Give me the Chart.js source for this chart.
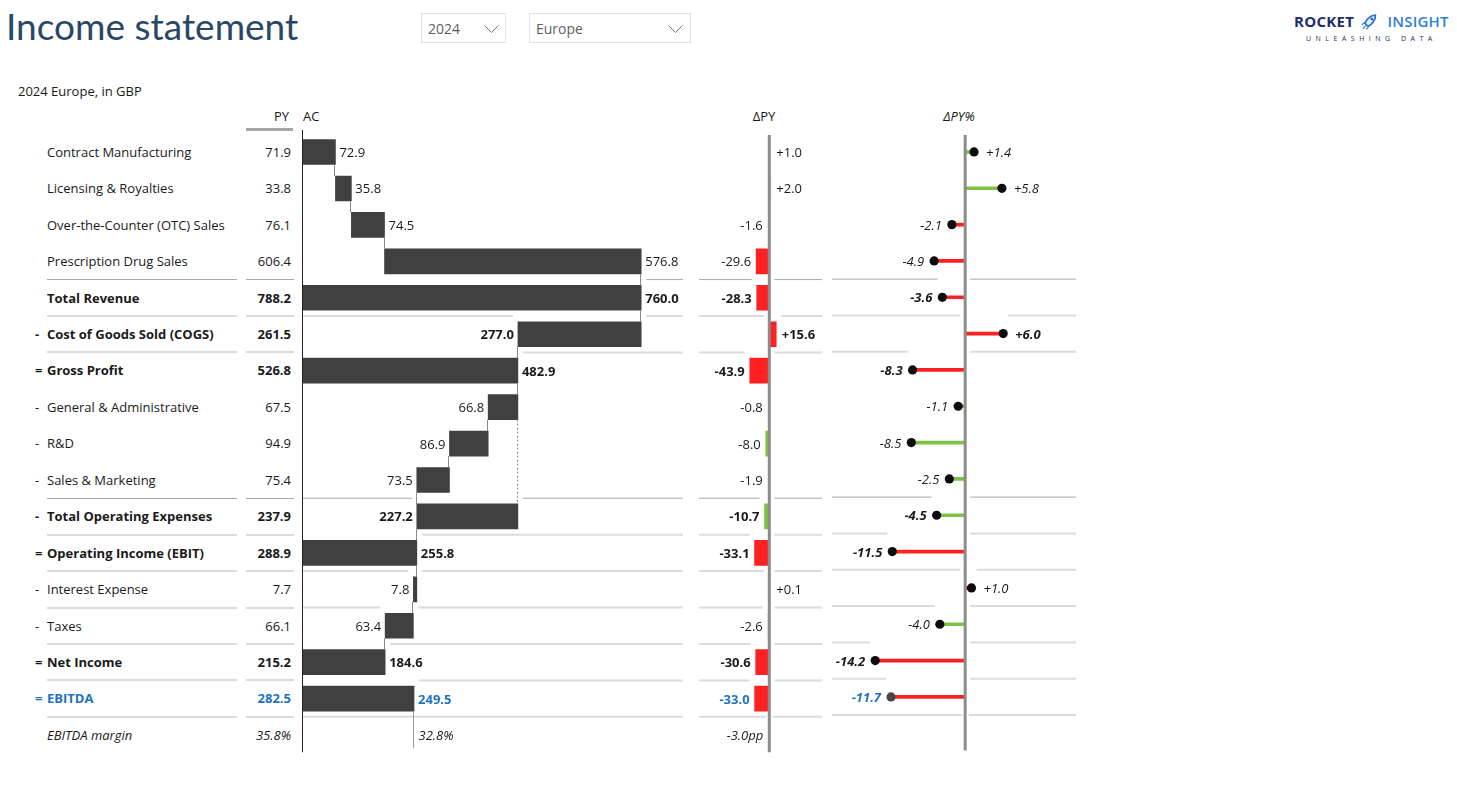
<!DOCTYPE html>
<html>
<head>
<meta charset="utf-8">
<title>Income statement</title>
<script src="https://cdn.jsdelivr.net/npm/chart.js@4.4.1/dist/chart.umd.min.js"></script>
<style>
  body { margin: 0; background: #fff; width: 1457px; height: 810px; overflow: hidden; position: relative;
         font-family: "Segoe UI", "Open Sans", sans-serif; color: #1a1a1a; }
  .abs { position: absolute; white-space: nowrap; }
  #title { left: 6px; top: 7px; font-family: Lato, "Open Sans", sans-serif; font-size: 37px; line-height: 38px; color: #2b4766; }
  .dd { position: absolute; top: 13px; height: 30px; border: 1px solid #e3e3e3; box-sizing: border-box;
        font-size: 14px; line-height: 30px; color: #605e5c; padding-left: 6px; }
  .dd svg { position: absolute; top: 11px; }
  #sub { left: 18px; top: 82px; font-size: 13px; }
  .hdr { position: absolute; top: 106px; font-size: 13px; line-height: 20px; }
  .row { position: absolute; white-space: nowrap; }
  .sep { position: absolute; }
  canvas { position: absolute; }
</style>
</head>
<body>
<div id="title" class="abs">Income statement</div>

<div class="dd" style="left:421px; width:85px;">2024
  <svg width="15" height="9" style="left:62px"><polyline points="0.5,0.5 7.5,7.5 14.5,0.5" fill="none" stroke="#777" stroke-width="1"/></svg>
</div>
<div class="dd" style="left:529px; width:162px;">Europe
  <svg width="15" height="9" style="left:138px"><polyline points="0.5,0.5 7.5,7.5 14.5,0.5" fill="none" stroke="#777" stroke-width="1"/></svg>
</div>

<div class="abs" style="left:1294px; top:10px;">
  <span style="font: 700 15px 'Open Sans'; color:#1f2d6e; letter-spacing:0.3px;">ROCKET</span>
  <svg width="18" height="18" viewBox="0 0 16 16" style="vertical-align:-3px; margin:0 4px 0 3px;">
    <g transform="rotate(42 8 8)">
      <path d="M8 0.8 C11.2 3.8 11.2 9.6 10 12.6 L6 12.6 C4.8 9.6 4.8 3.8 8 0.8Z" fill="#e8f1fc" stroke="#2a6fd0" stroke-width="1.5"/>
      <circle cx="8" cy="5.6" r="1.3" fill="#2a6fd0"/>
    </g>
    <path d="M1.5 15 L5 11.5 M0.8 11.6 L3.2 9.2 M4.6 15.4 L7 13" stroke="#3d8be0" stroke-width="1.2"/>
  </svg>
  <span style="font: 600 15px 'Open Sans'; color:#2d7fd8; letter-spacing:0.2px;">INSIGHT</span>
  <div style="font: 400 7px 'Open Sans'; letter-spacing:4.5px; color:#1f2d6e; margin:2px 0 0 12px;">UNLEASHING DATA</div>
</div>

<div id="sub" class="abs">2024 Europe, in GBP</div>
<div class="hdr" style="left:240px; width:49px; text-align:right;">PY</div>
<div class="abs" style="left:246px; top:128px; width:47px; height:3px; background:#a6a6a6;"></div>
<div class="hdr" style="left:303px;">AC</div>
<div class="hdr" style="left:734px; width:60px; text-align:center;">ΔPY</div>
<div class="hdr" style="left:929px; width:60px; text-align:center; font-style:italic;">ΔPY%</div>

<div id="rows"></div>

<canvas id="acChart"></canvas>
<canvas id="dpyChart"></canvas>
<canvas id="dpctChart"></canvas>

<script>
// ---- data ----
const rowNames = ['Contract Manufacturing', 'Licensing & Royalties', 'Over-the-Counter (OTC) Sales', 'Prescription Drug Sales',
  'Total Revenue', 'Cost of Goods Sold (COGS)', 'Gross Profit', 'General & Administrative', 'R&D', 'Sales & Marketing',
  'Total Operating Expenses', 'Operating Income (EBIT)', 'Interest Expense', 'Taxes', 'Net Income', 'EBITDA', 'EBITDA margin'];
const rowSigns = ['', '', '', '', '', '-', '=', '-', '-', '-', '-', '=', '-', '-', '=', '=', ''];
// add = adds to running total, total = result, sub = cost, subtotal = sum of costs, ratio = no bar
const rowKinds = ['add', 'add', 'add', 'add', 'total', 'sub', 'total', 'sub', 'sub', 'sub', 'subtotal', 'total', 'sub', 'sub', 'total', 'total', 'ratio'];
const pyValues = [71.9, 33.8, 76.1, 606.4, 788.2, 261.5, 526.8, 67.5, 94.9, 75.4, 237.9, 288.9, 7.7, 66.1, 215.2, 282.5, 35.8];
const acValues = [72.9, 35.8, 74.5, 576.8, 760.0, 277.0, 482.9, 66.8, 86.9, 73.5, 227.2, 255.8, 7.8, 63.4, 184.6, 249.5, 32.8];
const deltaPY = [1.0, 2.0, -1.6, -29.6, -28.3, 15.6, -43.9, -0.8, -8.0, -1.9, -10.7, -33.1, 0.1, -2.6, -30.6, -33.0, -3.0];
const deltaPct = [1.4, 5.8, -2.1, -4.9, -3.6, 6.0, -8.3, -1.1, -8.5, -2.5, -4.5, -11.5, 1.0, -4.0, -14.2, -11.7, null];
const sepAfter = [3, 4, 5, 9, 10, 11, 12, 13, 14, 15];
const sumLines = [3, 9];
const dottedLinks = [[7, 10]];

// ---- look ----
const rowStyle = ['n', 'n', 'n', 'n', 'b', 'b', 'b', 'n', 'n', 'n', 'b', 'b', 'n', 'n', 'b', 'blue', 'i'];
const FONT = "'Segoe UI', 'Open Sans', sans-serif";
const BLUE = '#1e73be', RED = '#ff2121', GREEN = '#7dc242', BAR = '#404040';
const TOP = 133.8, BAND = 36.44;
const K_AC = 0.445, K_PCT = 6.56;

const fontFor = (i, forceItalic) => {
  const s = rowStyle[i];
  return (s === 'i' || forceItalic ? 'italic ' : '') + (s === 'b' || s === 'blue' ? '700 ' : '400 ') + '13px ' + FONT;
};
const colorFor = i => rowStyle[i] === 'blue' ? BLUE : '#1a1a1a';
const isCost = i => rowKinds[i] === 'sub' || rowKinds[i] === 'subtotal';
const goodColor = (i, v) => ((v > 0) !== isCost(i)) ? GREEN : RED;
const fmtSigned = v => (v > 0 ? '+' : '') + v.toFixed(1);

// ---- html rows: labels, PY column, separators ----
const rowsDiv = document.getElementById('rows');
function addDiv(css, txt) {
  const d = document.createElement('div');
  d.className = 'row';
  Object.assign(d.style, css);
  if (txt !== undefined) d.textContent = txt;
  rowsDiv.appendChild(d);
  return d;
}
rowNames.forEach((name, i) => {
  const base = { top: (TOP + i * BAND) + 'px', height: BAND + 'px', lineHeight: BAND + 'px', font: fontFor(i), color: colorFor(i) };
  base.lineHeight = BAND + 'px';
  if (rowSigns[i]) addDiv(Object.assign({ left: '35px' }, base), rowSigns[i]).style.lineHeight = BAND + 'px';
  addDiv(Object.assign({ left: '47px' }, base), name).style.lineHeight = BAND + 'px';
  const py = rowKinds[i] === 'ratio' ? pyValues[i].toFixed(1) + '%' : pyValues[i].toFixed(1);
  addDiv(Object.assign({ left: '200px', width: '91px', textAlign: 'right' }, base), py).style.lineHeight = BAND + 'px';
});
sepAfter.forEach(i => {
  const y = TOP + (i + 1) * BAND;
  const sum = sumLines.includes(i);
  const h = sum ? 1 : 2, c = sum ? '#a8a8a8' : '#dcdcdc';
  [[47, 237], [246, 294]].forEach(([a, b]) => {
    addDiv({ left: a + 'px', width: (b - a) + 'px', top: (y - h / 2) + 'px', height: h + 'px', background: c });
  });
});

// ---- waterfall bars from AC values ----
let run = 0, anchor = 0;
const wfBars = rowKinds.map((k, i) => {
  const v = acValues[i];
  if (k === 'add') { const b = [run, run + v]; run += v; return b; }
  if (k === 'total') { run = v; anchor = v; return [0, v]; }
  if (k === 'sub') { const b = [run - v, run]; run -= v; return b; }
  if (k === 'subtotal') { run = anchor - v; return [anchor - v, anchor]; }
  return null;
});

// ---- helpers ----
function placeCanvas(id, left, right) {
  const c = document.getElementById(id);
  c.width = right - left; c.height = 628;
  c.style.left = left + 'px'; c.style.top = '128px';
  c.style.width = (right - left) + 'px'; c.style.height = '628px';
  return c;
}
function minusGaps(a, b, gaps) {
  gaps.sort((p, q) => p[0] - q[0]);
  const segs = []; let cur = a;
  for (const [g0, g1] of gaps) {
    if (g1 <= cur) continue;
    if (g0 > cur) segs.push([cur, Math.min(g0, b)]);
    cur = Math.max(cur, g1);
    if (cur >= b) break;
  }
  if (cur < b) segs.push([cur, b]);
  return segs;
}
function drawSeps(chart, left, lineL, lineR, extentOf, axisGap) {
  const ctx = chart.ctx, ys = chart.scales.y;
  ctx.save();
  sepAfter.forEach(i => {
    const y = (ys.getPixelForValue(i) + ys.getPixelForValue(i + 1)) / 2;
    const sum = sumLines.includes(i);
    const gaps = [];
    const ext = extentOf(i + 1);
    if (ext) gaps.push([ext[0] - 5, ext[1] + 5]);
    if (axisGap) gaps.push(axisGap.map(v => v - left));
    ctx.strokeStyle = sum ? '#a8a8a8' : '#dcdcdc';
    ctx.lineWidth = sum ? 1 : 2;
    minusGaps(lineL - left, lineR - left, gaps).forEach(([a, b]) => {
      ctx.beginPath(); ctx.moveTo(a, y); ctx.lineTo(b, y); ctx.stroke();
    });
  });
  ctx.restore();
}
function text(ctx, str, x, y, align, i, italic) {
  ctx.font = fontFor(i, italic);
  ctx.fillStyle = colorFor(i);
  ctx.textAlign = align;
  ctx.textBaseline = 'alphabetic';
  ctx.fillText(str, x, y + 5);
}
const baseOptions = (min, max) => ({
  indexAxis: 'y', responsive: false, animation: false, events: [],
  layout: { padding: { top: 5.8, bottom: 2.7, left: 0, right: 0 } },
  plugins: { legend: { display: false }, tooltip: { enabled: false } },
  scales: { x: { display: false, min, max }, y: { display: false } }
});

// ---- AC waterfall ----
const AC_L = 290, AC_R = 690, AC_ZERO = 303;
placeCanvas('acChart', AC_L, AC_R);
new Chart(document.getElementById('acChart'), {
  type: 'bar',
  data: { labels: rowNames, datasets: [{ data: wfBars, backgroundColor: BAR, barThickness: 25, borderSkipped: false }] },
  options: baseOptions((AC_L - AC_ZERO) / K_AC, (AC_R - AC_ZERO) / K_AC),
  plugins: [{
    id: 'waterfall',
    beforeDatasetsDraw(chart) {
      const xs = chart.scales.x;
      drawSeps(chart, AC_L, AC_ZERO, 683, i => wfBars[i] ? [xs.getPixelForValue(Math.min(...wfBars[i])), xs.getPixelForValue(Math.max(...wfBars[i]))] : null, null);
    },
    afterDatasetsDraw(chart) {
      const ctx = chart.ctx, xs = chart.scales.x, ys = chart.scales.y;
      const half = 12.5;
      ctx.save();
      // axis
      const x0 = Math.round(xs.getPixelForValue(0)) - 0.5;
      ctx.strokeStyle = '#222'; ctx.lineWidth = 1;
      ctx.beginPath(); ctx.moveTo(x0, 2); ctx.lineTo(x0, chart.chartArea.bottom - 1); ctx.stroke();
      // connectors between bars sharing an end value
      ctx.strokeStyle = '#8a8a8a';
      const shared = (a, b) => a.find(v => v !== 0 && b.some(w => Math.abs(w - v) < 0.15));
      for (let i = 0; i < wfBars.length - 1; i++) {
        const a = wfBars[i], b = wfBars[i + 1];
        if (!a || !b) continue;
        const v = shared(a, b);
        if (v === undefined) continue;
        const x = Math.round(xs.getPixelForValue(v)) - 0.5;
        ctx.beginPath(); ctx.moveTo(x, ys.getPixelForValue(i) + half); ctx.lineTo(x, ys.getPixelForValue(i + 1) - half); ctx.stroke();
      }
      ctx.setLineDash([2, 2]);
      dottedLinks.forEach(([i, j]) => {
        const v = shared(wfBars[i], wfBars[j]);
        const x = Math.round(xs.getPixelForValue(v)) - 0.5;
        ctx.beginPath(); ctx.moveTo(x, ys.getPixelForValue(i) + half); ctx.lineTo(x, ys.getPixelForValue(j) - half); ctx.stroke();
      });
      ctx.setLineDash([]);
      // EBITDA drop line into margin row
      const last = rowKinds.indexOf('ratio');
      const xe = Math.round(xs.getPixelForValue(wfBars[last - 1][1])) - 0.5;
      ctx.strokeStyle = '#9a9a9a';
      ctx.beginPath(); ctx.moveTo(xe, ys.getPixelForValue(last - 1) + half); ctx.lineTo(xe, ys.getPixelForValue(last) + 13); ctx.stroke();
      // labels
      rowNames.forEach((n, i) => {
        const y = ys.getPixelForValue(i);
        if (!wfBars[i]) {
          text(ctx, acValues[i].toFixed(1) + '%', xe + 5, y, 'left', i);
          return;
        }
        const lo = xs.getPixelForValue(Math.min(...wfBars[i])), hi = xs.getPixelForValue(Math.max(...wfBars[i]));
        const k = rowKinds[i];
        if (k === 'add' || k === 'total') text(ctx, acValues[i].toFixed(1), hi + 4, y, 'left', i);
        else text(ctx, acValues[i].toFixed(1), lo - 4, y, 'right', i);
      });
      ctx.restore();
    }
  }]
});

// ---- delta PY ----
const DP_L = 692, DP_R = 830, DP_ZERO = 769.3;
placeCanvas('dpyChart', DP_L, DP_R);
const dpyBars = deltaPY.map((v, i) => rowKinds[i] === 'ratio' ? null : [0, v]);
new Chart(document.getElementById('dpyChart'), {
  type: 'bar',
  data: { labels: rowNames, datasets: [{ data: dpyBars, backgroundColor: deltaPY.map((v, i) => goodColor(i, v)), barThickness: 25, borderSkipped: false }] },
  options: baseOptions((DP_L - DP_ZERO) / K_AC, (DP_R - DP_ZERO) / K_AC),
  plugins: [{
    id: 'dpy',
    beforeDatasetsDraw(chart) {
      const xs = chart.scales.x;
      drawSeps(chart, DP_L, 699, 822, i => dpyBars[i] ? [xs.getPixelForValue(Math.min(0, deltaPY[i])), xs.getPixelForValue(Math.max(0, deltaPY[i]))] : null, [DP_ZERO - 3, DP_ZERO + 3]);
    },
    afterDatasetsDraw(chart) {
      const ctx = chart.ctx, xs = chart.scales.x, ys = chart.scales.y;
      const x0 = xs.getPixelForValue(0);
      ctx.save();
      ctx.strokeStyle = '#8c8c8c'; ctx.lineWidth = 3;
      ctx.beginPath(); ctx.moveTo(x0, 7); ctx.lineTo(x0, chart.chartArea.bottom - 1); ctx.stroke();
      deltaPY.forEach((v, i) => {
        const y = ys.getPixelForValue(i);
        if (rowKinds[i] === 'ratio') { text(ctx, v.toFixed(1) + 'pp', x0 - 6, y, 'right', i); return; }
        const x = xs.getPixelForValue(v);
        if (v > 0) text(ctx, fmtSigned(v), Math.max(x, x0 + 1.5) + 5.5, y, 'left', i);
        else text(ctx, fmtSigned(v), Math.min(x, x0 - 1.5) - 5, y, 'right', i);
      });
      ctx.restore();
    }
  }]
});

// ---- delta PY % (lollipop) ----
const PC_L = 815, PC_R = 1085, PC_ZERO = 965.7;
placeCanvas('dpctChart', PC_L, PC_R);
const pctStems = deltaPct.map(v => v === null ? null : [0, v]);
new Chart(document.getElementById('dpctChart'), {
  type: 'bar',
  data: {
    labels: rowNames,
    datasets: [
      { type: 'bar', indexAxis: 'y', data: pctStems, backgroundColor: deltaPct.map((v, i) => v === null ? null : goodColor(i, v)),
        barThickness: 3, borderSkipped: false, order: 2 },
      { type: 'line', indexAxis: 'y', data: deltaPct, showLine: false, order: 1, pointRadius: 4.6, pointBorderWidth: 0,
        pointBackgroundColor: rowStyle.map(s => s === 'blue' ? '#474747' : '#0d0d0d') }
    ]
  },
  options: baseOptions((PC_L - PC_ZERO) / K_PCT, (PC_R - PC_ZERO) / K_PCT),
  plugins: [{
    id: 'dpct',
    beforeDatasetsDraw(chart) {
      const xs = chart.scales.x;
      drawSeps(chart, PC_L, 832, 1076, i => deltaPct[i] == null ? null : [xs.getPixelForValue(Math.min(0, deltaPct[i])), xs.getPixelForValue(Math.max(0, deltaPct[i]))], [PC_ZERO - 3, PC_ZERO + 3]);
    },
    afterDatasetsDraw(chart) {
      const ctx = chart.ctx, xs = chart.scales.x, ys = chart.scales.y;
      const x0 = xs.getPixelForValue(0);
      ctx.save();
      ctx.strokeStyle = '#8c8c8c'; ctx.lineWidth = 3;
      ctx.beginPath(); ctx.moveTo(x0, 7); ctx.lineTo(x0, chart.chartArea.bottom - 1); ctx.stroke();
      deltaPct.forEach((v, i) => {
        if (v === null) return;
        const y = ys.getPixelForValue(i), x = xs.getPixelForValue(v);
        if (v > 0) text(ctx, fmtSigned(v), x + 12, y, 'left', i, true);
        else text(ctx, fmtSigned(v), x - 10, y, 'right', i, true);
      });
      ctx.restore();
    }
  }]
});
</script>
</body>
</html>
